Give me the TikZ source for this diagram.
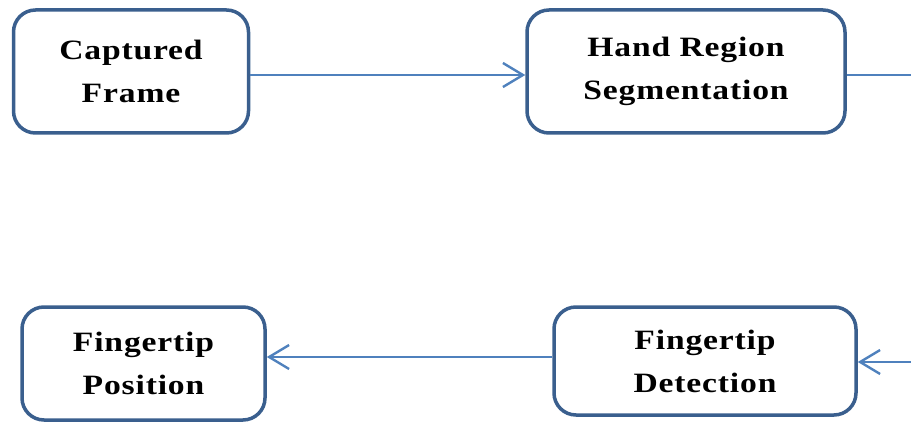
\documentclass[tikz,border=0pt]{standalone}
\usepackage{fontspec}
\setmainfont{Liberation Serif}[FakeStretch=1.2,LetterSpace=3]
\usetikzlibrary{arrows.meta}
\definecolor{boxblue}{HTML}{3A5F8E}
\definecolor{arrblue}{HTML}{4F81BD}
\tikzset{
  stepbox/.style={draw=boxblue, line width=3.5pt, rounded corners=22pt, fill=white,
    align=center, inner sep=0pt, font=\fontsize{28}{43}\selectfont\bfseries},
  conn/.style={draw=arrblue, line width=2.4pt},
  arr/.style={conn, -{Straight Barb[length=20pt,width=24pt,line width=2.4pt]}}
}
\begin{document}
\begin{tikzpicture}[x=1pt,y=-1pt]
\useasboundingbox (0,0) rectangle (911,425);
\node[stepbox, minimum width=235pt, minimum height=123pt] (cap) at (131,71.5) {Captured\\Frame};
\node[stepbox, minimum width=318pt, minimum height=123pt] (hand) at (686,71.5) {Hand Region\\Segmentation};
\node[stepbox, minimum width=243pt, minimum height=113pt] (pos) at (143.5,363.5) {Fingertip\\Position};
\node[stepbox, minimum width=302pt, minimum height=108pt] (det) at (705,361) {Fingertip\\Detection};
\coordinate (outtop) at (911,75);
\coordinate (outbot) at (911,362);
\draw[arr] ([yshift=-3.5pt]cap.east) -- ([yshift=-3.5pt]hand.west);
\draw[conn] ([yshift=-3.5pt]hand.east) -- (outtop);
\draw[arr] (outbot) -- (outbot -| det.east);
\draw[arr] ([yshift=4pt]det.west) -- ([yshift=4pt]det.west -| pos.east);
\end{tikzpicture}
\end{document}
